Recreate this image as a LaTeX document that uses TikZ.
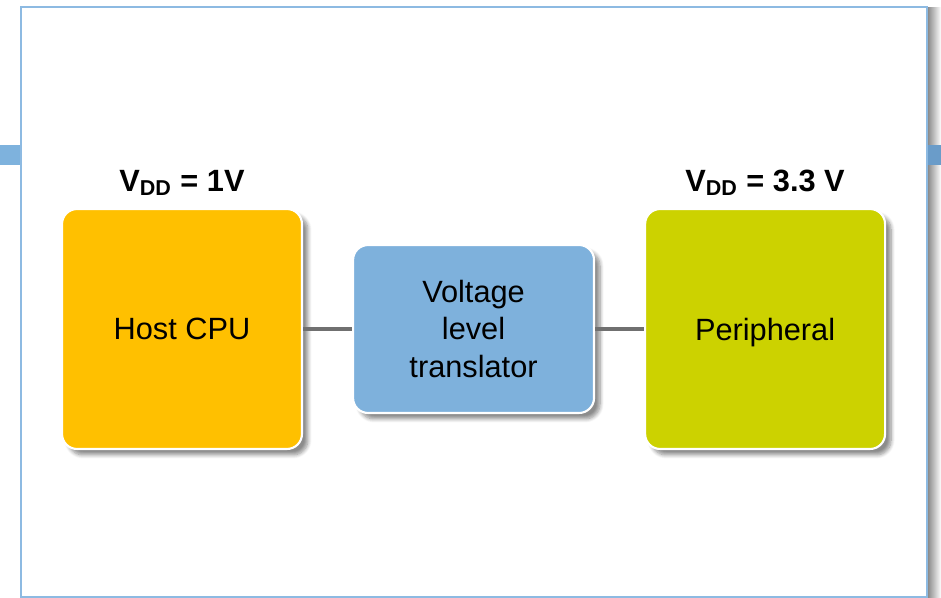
\documentclass[tikz,border=0pt]{standalone}
\usepackage{fontspec}
\setmainfont{Liberation Sans}
\usepackage{xcolor}
\usetikzlibrary{positioning,shadows.blur}

\definecolor{frameblue}{HTML}{8DBAE2}
\definecolor{tabblue}{HTML}{7EB2DD}
\definecolor{tabdark}{HTML}{6A9CC9}
\definecolor{cpuorange}{HTML}{FFC000}
\definecolor{lvlblue}{HTML}{7EB1DC}
\definecolor{periphgreen}{HTML}{CCD200}
\definecolor{wiregray}{HTML}{707070}

\begin{document}
\begin{tikzpicture}[
    x=0.02cm, y=-0.02cm,
    node distance = 0.98cm,
    block/.style = {rectangle, draw=white, line width=1.2pt, rounded corners=0.3cm, align=center,
        font=\fontsize{17.5}{21.5}\selectfont, text=black,
        blur shadow={shadow xshift=0.12cm, shadow yshift=-0.12cm, shadow blur steps=8, shadow opacity=45}},
    cpu_block/.style = {block, fill=cpuorange, minimum width=4.8cm, minimum height=4.8cm},
    lvl_block/.style = {block, fill=lvlblue, minimum width=4.82cm, minimum height=3.36cm},
    periph_block/.style = {block, fill=periphgreen, minimum width=4.8cm, minimum height=4.8cm, text depth=0pt},
    supply/.style = {font=\bfseries\fontsize{17.5}{21}\selectfont, inner sep=0pt},
    wire/.style = {wiregray, line width=2.4pt}
]
\useasboundingbox (0,0) rectangle (941,598);

% Frame
\shade[left color=black!45, right color=white] (928,8) rectangle (941,598);
\fill[tabblue] (0,145) rectangle (21,165);
\fill[tabdark] (928,145) rectangle (941,165);
\draw[frameblue, line width=1.7pt] (21,7) rectangle (927,597);

% Blocks
\node [cpu_block] (cpu) at (182,329) {Host CPU};
\node [lvl_block, right=of cpu] (lvl) {Voltage\\level\\translator};
\node [periph_block, right=of lvl] (periph) {Peripheral};

% Supplies
\node [supply, above=0.24cm of cpu] (vcpu) {V\textsubscript{DD} = 1V};
\node [supply, above=0.24cm of periph] (vperiph) {V\textsubscript{DD} = 3.3 V};

% Wires
\draw [wire] (cpu) -- (lvl);
\draw [wire] (lvl) -- (periph);

\end{tikzpicture}
\end{document}
